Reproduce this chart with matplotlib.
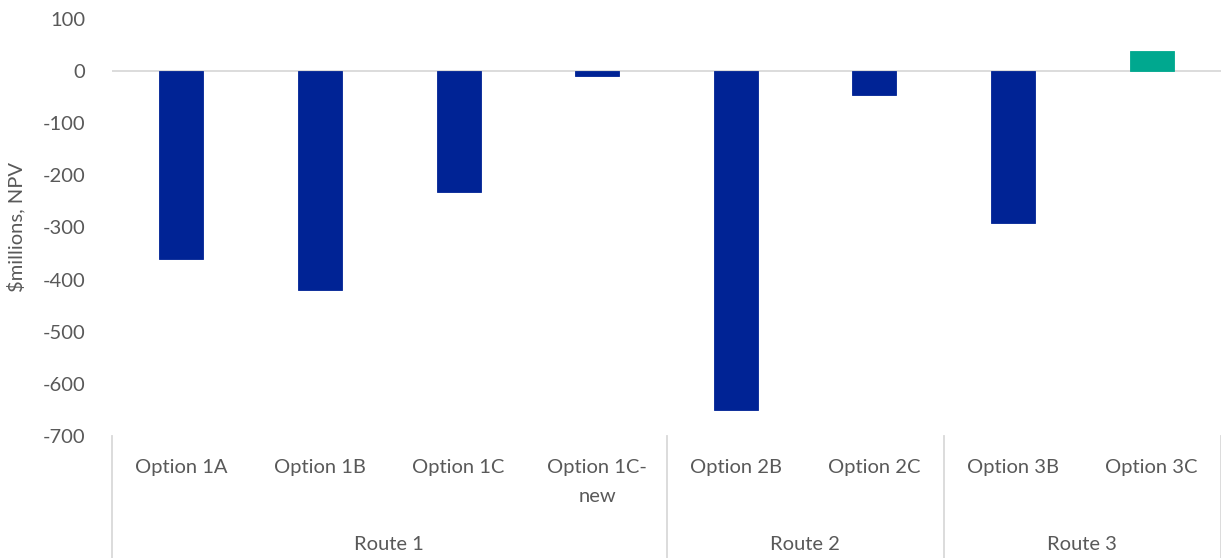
import matplotlib
matplotlib.use("Agg")
import matplotlib.pyplot as plt
from matplotlib.lines import Line2D
import matplotlib.transforms as mtransforms

options = ["Option 1A", "Option 1B", "Option 1C", "Option 1C-\nnew",
           "Option 2B", "Option 2C", "Option 3B", "Option 3C"]
routes = ["Route 1", "Route 2", "Route 3"]
route_sizes = [4, 2, 2]
values = [-361, -420, -231, -10, -650, -45, -292, 39]
yticks = [100, 0, -100, -200, -300, -400, -500, -600, -700]

navy = "#002395"
teal = "#00A88F"
txt = "#595959"
grid = "#D9D9D9"
fs = 14.5

plt.rcParams['font.family'] = ['Lato', 'DejaVu Sans']

fig = plt.figure(figsize=(12.21, 5.58), dpi=100)
ax = fig.add_axes([112/1221, 1-436/558, (1221-112)/1221, (436-19)/558])

x = list(range(len(values)))
colors = [teal if v > 0 else navy for v in values]
ax.bar(x, values, width=0.317, color=colors, edgecolor=colors, linewidth=0.6, zorder=2)

ax.set_xlim(-0.5, len(values) - 0.5)
ax.set_ylim(-700, 100)
ax.set_yticks(yticks)
ax.set_yticklabels([str(t) for t in yticks], fontsize=fs, color=txt)
ax.tick_params(axis='y', length=0, pad=19)
ax.set_xticks([])
for s in ax.spines.values():
    s.set_visible(False)
ax.axhline(0, color=grid, linewidth=1.3, zorder=1)

ax.set_ylabel("$millions, NPV", fontsize=fs, color=txt)
ax.yaxis.set_label_coords(-87/1109, 0.5)

trans = mtransforms.blended_transform_factory(ax.transData, ax.transAxes)
ax_h = 417.0
for xi, lab in zip(x, options):
    if "\n" not in lab:
        ax.text(xi, -(467 - 436) / ax_h, lab, transform=trans, ha='center', va='center',
                fontsize=fs, color=txt)
    else:
        first, second = lab.split("\n")
        ax.text(xi, -(467 - 436) / ax_h, first, transform=trans, ha='center', va='center',
                fontsize=fs, color=txt)
        ax.text(xi, -(496 - 436) / ax_h, second, transform=trans, ha='center', va='center',
                fontsize=fs, color=txt)

start = 0
bounds = [start - 0.5]
for r, n in zip(routes, route_sizes):
    center = start + (n - 1) / 2
    ax.text(center, -(544 - 436) / ax_h, r, transform=trans, ha='center', va='center',
            fontsize=fs, color=txt)
    start += n
    bounds.append(start - 0.5)

for b in bounds:
    ax.add_line(Line2D([b, b], [0, -(560 - 436) / ax_h], transform=trans,
                       color=grid, linewidth=1.3, clip_on=False))

fig.savefig("out.png", dpi=100)
